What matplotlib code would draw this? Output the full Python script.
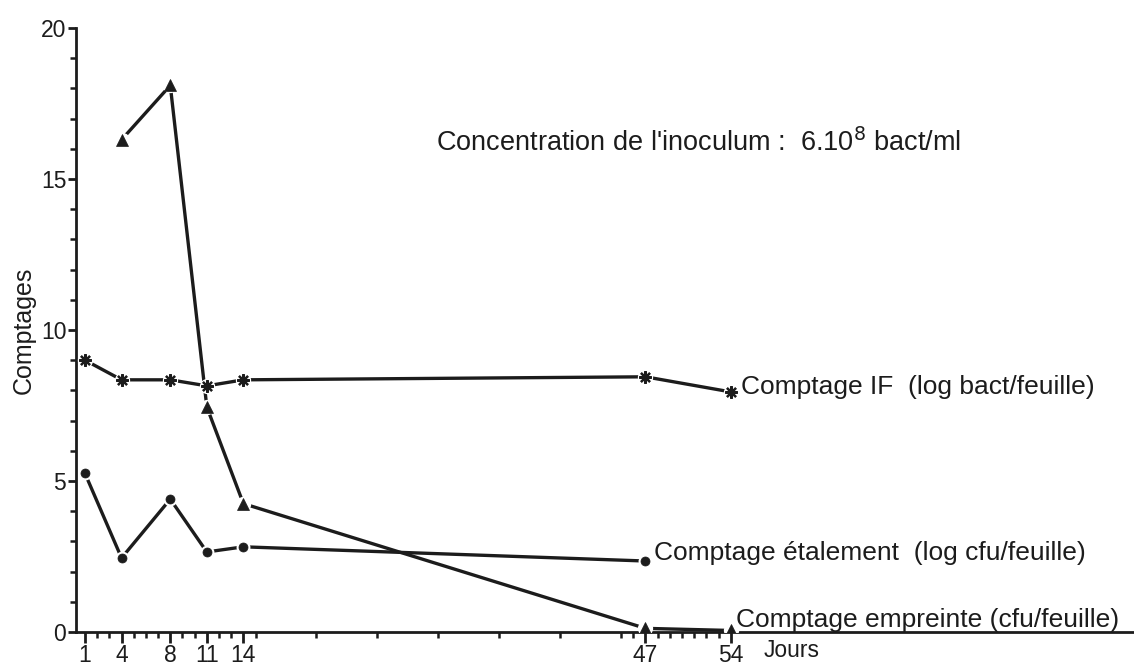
import matplotlib
matplotlib.use("Agg")
import matplotlib.pyplot as plt
from matplotlib.transforms import blended_transform_factory

plt.rcParams['font.family'] = ['Liberation Sans', 'DejaVu Sans']

# ---- data ----
days_if = [1, 4, 8, 11, 14, 47, 54]
if_counts = [9.0, 8.35, 8.35, 8.15, 8.35, 8.45, 7.95]

days_etal = [1, 4, 8, 11, 14, 47]
etal_counts = [5.25, 2.45, 4.4, 2.65, 2.82, 2.35]

days_empr = [4, 8, 11, 14, 47, 54]
empr_counts = [16.3, 18.1, 7.45, 4.25, 0.12, 0.05]

major_days = [1, 4, 8, 11, 14, 47, 54]
minor_days = [2, 3, 5, 6, 7, 9, 10, 12, 13, 15, 20, 25, 30, 35, 40, 45, 46,
              48, 49, 50, 51, 52, 53]
y_major = [0, 5, 10, 15, 20]
y_minor = [1, 2, 3, 4, 6, 7, 8, 9, 11, 12, 13, 14, 16, 17, 18, 19]

label_if = "Comptage IF  (log bact/feuille)"
label_etal = "Comptage étalement  (log cfu/feuille)"
label_empr = "Comptage empreinte (cfu/feuille)"
title_txt = "Concentration de l'inoculum :  6.10$^{8}$ bact/ml"

ink = '#1c1c1c'

fig = plt.figure(figsize=(11.34, 6.67), dpi=100)
ax = fig.add_axes([0.067, 0.0525, 0.933, 0.9055])
ax.set_xlim(0.26, 87.1)
ax.set_ylim(0, 20)

def series(xs, ys, marker, ms, halo):
    ax.plot(xs, ys, '-', color=ink, lw=2.4, solid_capstyle='butt', zorder=2)
    ax.plot(xs, ys, 'o', color='white', ms=halo, mew=0, zorder=3)
    if marker == 'ast':
        ax.plot(xs, ys, ls='none', marker=(8, 2, 0), ms=ms, mec=ink, mew=1.6, zorder=4)
    else:
        ax.plot(xs, ys, ls='none', marker=marker, ms=ms, mfc=ink, mec=ink, mew=0.5, zorder=4)

series(days_if, if_counts, 'ast', 9, 11)
series(days_etal, etal_counts, 'o', 6.5, 10)
series(days_empr, empr_counts, '^', 8, 11)

# spines
for s in ['top', 'right']:
    ax.spines[s].set_visible(False)
ax.spines['left'].set_linewidth(2.0)
ax.spines['bottom'].set_linewidth(2.0)
ax.spines['left'].set_color(ink)
ax.spines['bottom'].set_color(ink)

ax.set_xticks(major_days)
ax.set_xticks(minor_days, minor=True)
ax.set_yticks(y_major)
ax.set_yticks(y_minor, minor=True)
ax.tick_params(axis='x', which='major', direction='out', length=8, width=2, pad=1,
               labelsize=16.5, colors=ink)
ax.tick_params(axis='x', which='minor', direction='out', length=4.5, width=1.8, colors=ink)
ax.tick_params(axis='y', which='major', direction='out', length=6, width=2, pad=1,
               labelsize=16.5, colors=ink)
ax.tick_params(axis='y', which='minor', direction='out', length=4, width=1.8, colors=ink)

ax.set_ylabel("Comptages", fontsize=18, color=ink)
ax.yaxis.set_label_coords(-0.038, 0.5)

# annotations
ax.text(54.85, 8.1, label_if, fontsize=19, va='center', ha='left', color=ink)
ax.text(47.7, 2.6, label_etal, fontsize=19, va='center', ha='left', color=ink)
ax.text(54.4, 0.15, label_empr, fontsize=19, va='baseline', ha='left', color=ink)
ax.text(29.8, 16.2, title_txt, fontsize=19.5, va='center', ha='left', color=ink)

trans = blended_transform_factory(ax.transData, ax.transAxes)
ax.text(56.7, -0.012, "Jours", fontsize=16.5, va='top', ha='left', color=ink,
        transform=trans)

fig.savefig("out.png", dpi=100, facecolor='white')
